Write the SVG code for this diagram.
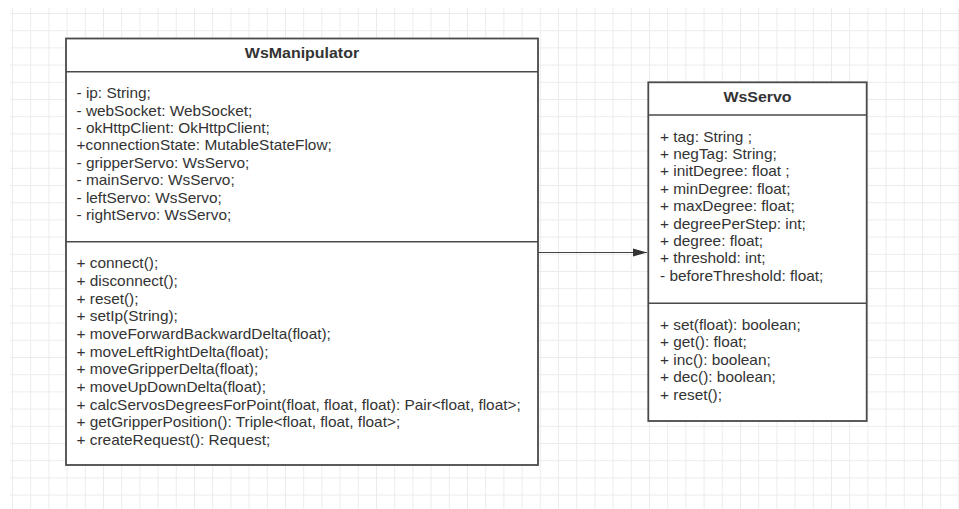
<svg xmlns="http://www.w3.org/2000/svg" width="959" height="509" viewBox="0 0 959 509">
<style>
.box{fill:#fff;stroke:#4a4a4a;stroke-width:1.8}
.sep{stroke:#4a4a4a;stroke-width:1.5}
.t{font-family:"Liberation Sans",Arial,sans-serif;font-size:14px;fill:#333}
.h{font-family:"Liberation Sans",Arial,sans-serif;font-size:14.5px;font-weight:bold;fill:#333;text-anchor:middle}
.edge{stroke:#444;stroke-width:1.2;fill:none}
</style>
<defs>
<pattern id="grid" x="12" y="13" width="18.2" height="17.2" patternUnits="userSpaceOnUse">
<path d="M0.5 0V17.2M0 0.5H18.2" stroke="#ebebeb" stroke-width="1" fill="none"/>
</pattern>
<marker id="arr" markerWidth="14" markerHeight="10" refX="14" refY="5" orient="auto" markerUnits="userSpaceOnUse">
<path d="M0 1L14 5L0 9Z" fill="#333"/>
</marker>
</defs>
<rect width="959" height="509" fill="#fff"/>
<rect x="10" y="8" width="949" height="501" fill="url(#grid)"/>
<g id="connectors">
<line class="edge" x1="538" y1="252.5" x2="647" y2="252.5" marker-end="url(#arr)"/>
</g>
<g id="WsManipulator">
<rect class="box" x="66" y="38.5" width="472" height="426.5"/>
<line class="sep" x1="66" y1="71.7" x2="538" y2="71.7"/>
<line class="sep" x1="66" y1="241.7" x2="538" y2="241.7"/>
<g transform="translate(302,0) scale(1.1,1)">
<text class="h" x="0" y="58.3">WsManipulator</text>
</g>
<g transform="translate(76.5,0) scale(1.1,1)">
<text class="t" x="0" y="98.3">- ip: String;</text>
<text class="t" x="0" y="115.7">- webSocket: WebSocket;</text>
<text class="t" x="0" y="133.1">- okHttpClient: OkHttpClient;</text>
<text class="t" x="0" y="150.5">+connectionState: MutableStateFlow;</text>
<text class="t" x="0" y="167.9">- gripperServo: WsServo;</text>
<text class="t" x="0" y="185.3">- mainServo: WsServo;</text>
<text class="t" x="0" y="202.7">- leftServo: WsServo;</text>
<text class="t" x="0" y="220.1">- rightServo: WsServo;</text>
<text class="t" x="0" y="268.3">+ connect();</text>
<text class="t" x="0" y="286">+ disconnect();</text>
<text class="t" x="0" y="303.6">+ reset();</text>
<text class="t" x="0" y="321.3">+ setIp(String);</text>
<text class="t" x="0" y="339">+ moveForwardBackwardDelta(float);</text>
<text class="t" x="0" y="356.6">+ moveLeftRightDelta(float);</text>
<text class="t" x="0" y="374.3">+ moveGripperDelta(float);</text>
<text class="t" x="0" y="392">+ moveUpDownDelta(float);</text>
<text class="t" x="0" y="409.7">+ calcServosDegreesForPoint(float, float, float): Pair&lt;float, float&gt;;</text>
<text class="t" x="0" y="427.3">+ getGripperPosition(): Triple&lt;float, float, float&gt;;</text>
<text class="t" x="0" y="445">+ createRequest(): Request;</text>
</g>
</g>
<g id="WsServo">
<rect class="box" x="648.3" y="82.3" width="218.4" height="338.7"/>
<line class="sep" x1="648.3" y1="115" x2="866.7" y2="115"/>
<line class="sep" x1="648.3" y1="303.3" x2="866.7" y2="303.3"/>
<g transform="translate(757.5,0) scale(1.1,1)">
<text class="h" x="0" y="101.7">WsServo</text>
</g>
<g transform="translate(660,0) scale(1.1,1)">
<text class="t" x="0" y="141.7">+ tag: String ;</text>
<text class="t" x="0" y="159.1">+ negTag: String;</text>
<text class="t" x="0" y="176.5">+ initDegree: float ;</text>
<text class="t" x="0" y="193.9">+ minDegree: float;</text>
<text class="t" x="0" y="211.3">+ maxDegree: float;</text>
<text class="t" x="0" y="228.7">+ degreePerStep: int;</text>
<text class="t" x="0" y="246.1">+ degree: float;</text>
<text class="t" x="0" y="263.5">+ threshold: int;</text>
<text class="t" x="0" y="280.9">- beforeThreshold: float;</text>
<text class="t" x="0" y="330">+ set(float): boolean;</text>
<text class="t" x="0" y="347.5">+ get(): float;</text>
<text class="t" x="0" y="365">+ inc(): boolean;</text>
<text class="t" x="0" y="382.5">+ dec(): boolean;</text>
<text class="t" x="0" y="400">+ reset();</text>
</g>
</g>
</svg>
